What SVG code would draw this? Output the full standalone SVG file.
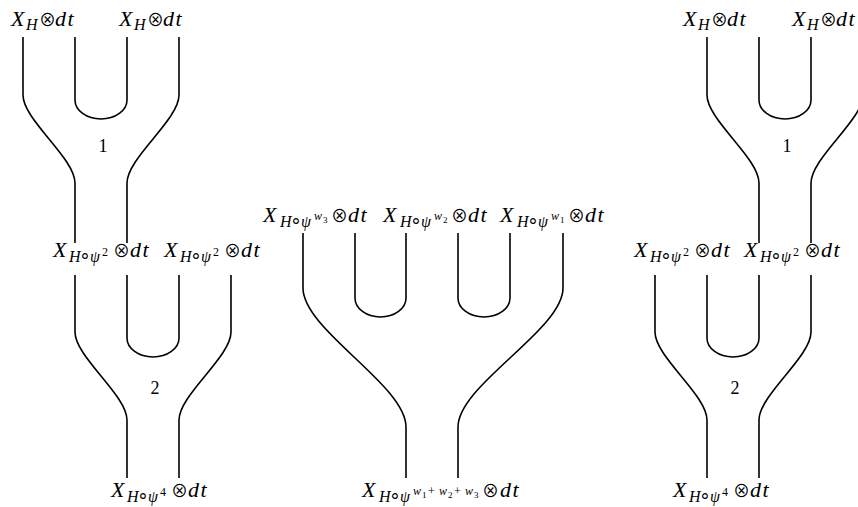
<svg xmlns="http://www.w3.org/2000/svg" width="858" height="507" viewBox="0 0 858 507">
<style>
.s{fill:none;stroke:#000;stroke-width:1.6}
.m{font-family:"Liberation Serif",serif;font-style:italic;font-size:22px;fill:#000}
.sb{font-size:16px}
.ss{font-size:12px}
.sss{font-size:9px}
.up{font-style:normal}
.op{font-family:"Noto Sans CJK JP","DejaVu Sans",sans-serif;font-style:normal;font-size:17px}
.ro{font-family:"DejaVu Sans",sans-serif;font-style:normal;font-size:19px}
.dt{letter-spacing:1.5px}
.n{font-family:"Liberation Serif",serif;font-size:18px;text-anchor:middle;fill:#000}
</style>
<rect width="858" height="507" fill="#fff"/>
<g id="connectors">
  <path class="s" d="M23,37 V95 C23,120 75,158 75,183 V243"/>
  <path class="s" d="M75,37 V100 A26,19 0 0 0 127,100 V37"/>
  <path class="s" d="M179,37 V95 C179,120 127,158 127,183 V243"/>
  <path class="s" d="M75,275 V332 C75,357 127,395 127,420 V478"/>
  <path class="s" d="M127,275 V338 A26,19 0 0 0 179,338 V275"/>
  <path class="s" d="M231,275 V332 C231,357 179,395 179,420 V478"/>
  <path class="s" d="M303,233 V288 C303,330 406,385 406,427 V478"/>
  <path class="s" d="M355,233 V298 A25.5,19 0 0 0 406,298 V233"/>
  <path class="s" d="M458,233 V298 A26,19 0 0 0 510,298 V233"/>
  <path class="s" d="M563,233 V288 C563,330 458,385 458,427 V478"/>
  <path class="s" d="M707,37 V95 C707,120 759,158 759,183 V243"/>
  <path class="s" d="M759,37 V100 A26,19 0 0 0 811,100 V37"/>
  <path class="s" d="M863,37 V95 C863,120 811,158 811,183 V243"/>
  <path class="s" d="M655,275 V332 C655,357 707,395 707,420 V478"/>
  <path class="s" d="M707,275 V338 A26,19 0 0 0 759,338 V275"/>
  <path class="s" d="M811,275 V332 C811,357 759,395 759,420 V478"/>
</g>
<g id="left-top-1"><text class="m" y="26"><tspan x="11">X</tspan><tspan class="sb" x="26" y="30">H</tspan><tspan class="op" x="39" y="26">⊗</tspan><tspan class="dt" x="55">dt</tspan></text></g>
<g id="left-top-2"><text class="m" y="26"><tspan x="119">X</tspan><tspan class="sb" x="134" y="30">H</tspan><tspan class="op" x="147" y="26">⊗</tspan><tspan class="dt" x="163">dt</tspan></text></g>
<g id="left-num-1"><text class="n" x="103" y="152">1</text></g>
<g id="left-mid-1"><text class="m" y="257"><tspan x="53">X</tspan><tspan class="sb" x="69" y="262">H</tspan><tspan class="ro" x="79" y="262">∘</tspan><tspan class="sb" x="90" y="262">ψ</tspan><tspan class="ss up" x="102" y="256">2</tspan><tspan class="op" x="113" y="257">⊗</tspan><tspan class="dt" x="130">dt</tspan></text></g>
<g id="left-mid-2"><text class="m" y="257"><tspan x="164">X</tspan><tspan class="sb" x="180" y="262">H</tspan><tspan class="ro" x="190" y="262">∘</tspan><tspan class="sb" x="201" y="262">ψ</tspan><tspan class="ss up" x="213" y="256">2</tspan><tspan class="op" x="224" y="257">⊗</tspan><tspan class="dt" x="241">dt</tspan></text></g>
<g id="left-num-2"><text class="n" x="155" y="394">2</text></g>
<g id="left-bottom"><text class="m" y="497"><tspan x="111">X</tspan><tspan class="sb" x="127" y="502">H</tspan><tspan class="ro" x="137" y="502">∘</tspan><tspan class="sb" x="148" y="502">ψ</tspan><tspan class="ss up" x="160" y="496">4</tspan><tspan class="op" x="171" y="497">⊗</tspan><tspan class="dt" x="188">dt</tspan></text></g>
<g id="mid-top-1"><text class="m" y="222"><tspan x="263">X</tspan><tspan class="sb" x="280" y="227">H</tspan><tspan class="ro" x="290" y="227">∘</tspan><tspan class="sb" x="301" y="227">ψ</tspan><tspan class="ss" x="314" y="220">w</tspan><tspan class="sss up" x="323" y="223">3</tspan><tspan class="op" x="331" y="222">⊗</tspan><tspan class="dt" x="348">dt</tspan></text></g>
<g id="mid-top-2"><text class="m" y="222"><tspan x="383">X</tspan><tspan class="sb" x="400" y="227">H</tspan><tspan class="ro" x="410" y="227">∘</tspan><tspan class="sb" x="421" y="227">ψ</tspan><tspan class="ss" x="434" y="220">w</tspan><tspan class="sss up" x="443" y="223">2</tspan><tspan class="op" x="451" y="222">⊗</tspan><tspan class="dt" x="468">dt</tspan></text></g>
<g id="mid-top-3"><text class="m" y="222"><tspan x="500">X</tspan><tspan class="sb" x="517" y="227">H</tspan><tspan class="ro" x="527" y="227">∘</tspan><tspan class="sb" x="538" y="227">ψ</tspan><tspan class="ss" x="551" y="220">w</tspan><tspan class="sss up" x="560" y="223">1</tspan><tspan class="op" x="568" y="222">⊗</tspan><tspan class="dt" x="585">dt</tspan></text></g>
<g id="mid-bottom"><text class="m" y="497"><tspan x="362">X</tspan><tspan class="sb" x="379" y="502">H</tspan><tspan class="ro" x="389" y="502">∘</tspan><tspan class="sb" x="400" y="502">ψ</tspan><tspan class="ss" x="413" y="495">w</tspan><tspan class="sss up" x="422" y="498">1</tspan><tspan class="ss up" x="428" y="495">+</tspan><tspan class="ss" x="439" y="495">w</tspan><tspan class="sss up" x="448" y="498">2</tspan><tspan class="ss up" x="454" y="495">+</tspan><tspan class="ss" x="465" y="495">w</tspan><tspan class="sss up" x="474" y="498">3</tspan><tspan class="op" x="482" y="497">⊗</tspan><tspan class="dt" x="500">dt</tspan></text></g>
<g id="right-top-1"><text class="m" y="26"><tspan x="683">X</tspan><tspan class="sb" x="698" y="30">H</tspan><tspan class="op" x="711" y="26">⊗</tspan><tspan class="dt" x="727">dt</tspan></text></g>
<g id="right-top-2"><text class="m" y="26"><tspan x="792">X</tspan><tspan class="sb" x="807" y="30">H</tspan><tspan class="op" x="820" y="26">⊗</tspan><tspan class="dt" x="836">dt</tspan></text></g>
<g id="right-num-1"><text class="n" x="787" y="152">1</text></g>
<g id="right-mid-1"><text class="m" y="257"><tspan x="634">X</tspan><tspan class="sb" x="650" y="262">H</tspan><tspan class="ro" x="660" y="262">∘</tspan><tspan class="sb" x="671" y="262">ψ</tspan><tspan class="ss up" x="683" y="256">2</tspan><tspan class="op" x="694" y="257">⊗</tspan><tspan class="dt" x="711">dt</tspan></text></g>
<g id="right-mid-2"><text class="m" y="257"><tspan x="744">X</tspan><tspan class="sb" x="760" y="262">H</tspan><tspan class="ro" x="770" y="262">∘</tspan><tspan class="sb" x="781" y="262">ψ</tspan><tspan class="ss up" x="793" y="256">2</tspan><tspan class="op" x="804" y="257">⊗</tspan><tspan class="dt" x="821">dt</tspan></text></g>
<g id="right-num-2"><text class="n" x="735" y="394">2</text></g>
<g id="right-bottom"><text class="m" y="497"><tspan x="673">X</tspan><tspan class="sb" x="689" y="502">H</tspan><tspan class="ro" x="699" y="502">∘</tspan><tspan class="sb" x="710" y="502">ψ</tspan><tspan class="ss up" x="722" y="496">4</tspan><tspan class="op" x="733" y="497">⊗</tspan><tspan class="dt" x="750">dt</tspan></text></g>
</svg>
